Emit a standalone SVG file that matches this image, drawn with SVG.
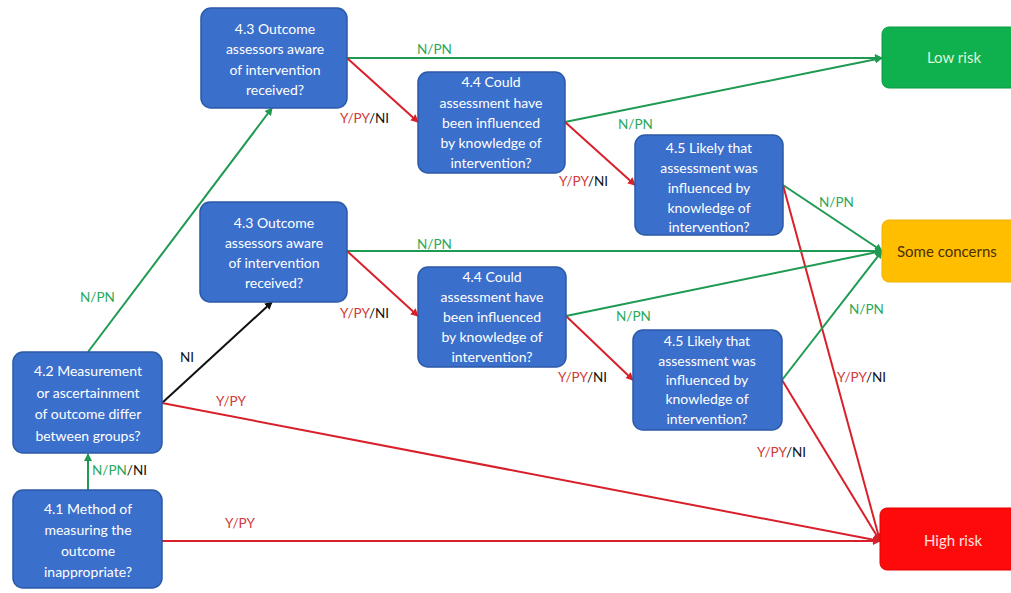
<svg xmlns="http://www.w3.org/2000/svg" width="1011" height="593" viewBox="0 0 1011 593">
  <defs>
    <marker id="ahG" markerWidth="8" markerHeight="8" refX="7" refY="4" orient="auto" markerUnits="userSpaceOnUse">
      <path d="M0,0 L8,4 L0,8 z" fill="#1f9a52"/>
    </marker>
    <marker id="ahR" markerWidth="8" markerHeight="8" refX="7" refY="4" orient="auto" markerUnits="userSpaceOnUse">
      <path d="M0,0 L8,4 L0,8 z" fill="#d8202a"/>
    </marker>
    <marker id="ahK" markerWidth="8" markerHeight="8" refX="7" refY="4" orient="auto" markerUnits="userSpaceOnUse">
      <path d="M0,0 L8,4 L0,8 z" fill="#111"/>
    </marker>
  </defs>
  <style>
    .q rect { fill: #3b6fcc; stroke: #2c5aa6; stroke-width: 1.5; }
    .q text { font-family: Lato, "Liberation Sans", sans-serif; font-size: 14px; fill: #ffffff; text-anchor: middle; }
    .g { stroke: #1f9a52; stroke-width: 2; fill: none; marker-end: url(#ahG); }
    .r { stroke: #d8202a; stroke-width: 2; fill: none; marker-end: url(#ahR); }
    .k { stroke: #111; stroke-width: 2; fill: none; marker-end: url(#ahK); }
    .lbl { font-family: Lato, "Liberation Sans", sans-serif; font-size: 13.5px; }
    .tg { fill: #2aa85a; }
    .tr { fill: #d23a3a; }
    .tk { fill: #111; }
    .term text { font-family: Lato, "Liberation Sans", sans-serif; font-size: 15px; text-anchor: middle; }
  </style>
  <rect width="1011" height="593" fill="#ffffff"/>

  <!-- connectors -->
  <g id="connectors">
    <line class="g" x1="88" y1="490" x2="88" y2="454"/>
    <line class="r" x1="162" y1="541" x2="880" y2="541"/>
    <line class="g" x1="88" y1="352" x2="272" y2="108"/>
    <line class="k" x1="162" y1="403" x2="272" y2="302"/>
    <line class="r" x1="162" y1="403" x2="880" y2="541"/>

    <line class="g" x1="347" y1="58" x2="882" y2="58"/>
    <line class="r" x1="347" y1="58" x2="418" y2="122"/>
    <line class="g" x1="565" y1="122" x2="882" y2="58"/>
    <line class="r" x1="565" y1="122" x2="635" y2="185"/>
    <line class="g" x1="783" y1="185" x2="882" y2="251"/>
    <line class="r" x1="783" y1="185" x2="880" y2="541"/>

    <line class="g" x1="347" y1="251" x2="882" y2="251"/>
    <line class="r" x1="347" y1="251" x2="418" y2="316"/>
    <line class="g" x1="566" y1="316" x2="882" y2="251"/>
    <line class="r" x1="566" y1="316" x2="633" y2="380"/>
    <line class="g" x1="782" y1="380" x2="882" y2="251"/>
    <line class="r" x1="782" y1="380" x2="880" y2="541"/>

    <!-- connector labels -->
    <text class="lbl" x="92" y="475"><tspan class="tg">N/PN</tspan><tspan class="tk">/NI</tspan></text>
    <text class="lbl tr" x="225" y="528">Y/PY</text>
    <text class="lbl tg" x="80" y="302">N/PN</text>
    <text class="lbl tk" x="180" y="362">NI</text>
    <text class="lbl tr" x="216" y="406">Y/PY</text>

    <text class="lbl tg" x="417" y="54">N/PN</text>
    <text class="lbl" x="340" y="123"><tspan class="tr">Y/PY</tspan><tspan class="tk">/NI</tspan></text>
    <text class="lbl tg" x="618" y="129">N/PN</text>
    <text class="lbl" x="559" y="186"><tspan class="tr">Y/PY</tspan><tspan class="tk">/NI</tspan></text>
    <text class="lbl tg" x="819" y="207">N/PN</text>
    <text class="lbl" x="837" y="382"><tspan class="tr">Y/PY</tspan><tspan class="tk">/NI</tspan></text>

    <text class="lbl tg" x="417" y="249">N/PN</text>
    <text class="lbl" x="340" y="318"><tspan class="tr">Y/PY</tspan><tspan class="tk">/NI</tspan></text>
    <text class="lbl tg" x="616" y="321">N/PN</text>
    <text class="lbl" x="558" y="382"><tspan class="tr">Y/PY</tspan><tspan class="tk">/NI</tspan></text>
    <text class="lbl tg" x="849" y="314">N/PN</text>
    <text class="lbl" x="757" y="457"><tspan class="tr">Y/PY</tspan><tspan class="tk">/NI</tspan></text>
  </g>

  <!-- question nodes -->
  <g id="q41" class="q">
    <rect x="13" y="490" width="149" height="98" rx="10"/>
    <text x="88" y="514">4.1 Method of</text>
    <text x="88" y="535">measuring the</text>
    <text x="88" y="556">outcome</text>
    <text x="88" y="577">inappropriate?</text>
  </g>
  <g id="q42" class="q">
    <rect x="13" y="352" width="149" height="101" rx="10"/>
    <text x="88" y="376">4.2 Measurement</text>
    <text x="88" y="398">or ascertainment</text>
    <text x="88" y="419">of outcome differ</text>
    <text x="88" y="441">between groups?</text>
  </g>
  <g id="q43a" class="q">
    <rect x="201" y="8" width="146" height="100" rx="10"/>
    <text x="275" y="34">4.3 Outcome</text>
    <text x="275" y="54">assessors aware</text>
    <text x="275" y="75">of intervention</text>
    <text x="275" y="95">received?</text>
  </g>
  <g id="q43b" class="q">
    <rect x="200" y="202" width="147" height="100" rx="10"/>
    <text x="274" y="228">4.3 Outcome</text>
    <text x="274" y="248">assessors aware</text>
    <text x="274" y="268">of intervention</text>
    <text x="274" y="288">received?</text>
  </g>
  <g id="q44a" class="q">
    <rect x="418" y="72" width="147" height="101" rx="10"/>
    <text x="491" y="87">4.4 Could</text>
    <text x="491" y="108">assessment have</text>
    <text x="491" y="128">been influenced</text>
    <text x="491" y="148">by knowledge of</text>
    <text x="491" y="168">intervention?</text>
  </g>
  <g id="q44b" class="q">
    <rect x="418" y="267" width="148" height="100" rx="10"/>
    <text x="492" y="282">4.4 Could</text>
    <text x="492" y="302">assessment have</text>
    <text x="492" y="322">been influenced</text>
    <text x="492" y="342">by knowledge of</text>
    <text x="492" y="362">intervention?</text>
  </g>
  <g id="q45a" class="q">
    <rect x="635" y="135" width="148" height="100" rx="10"/>
    <text x="709" y="153">4.5 Likely that</text>
    <text x="709" y="173">assessment was</text>
    <text x="709" y="193">influenced by</text>
    <text x="709" y="213">knowledge of</text>
    <text x="709" y="232">intervention?</text>
  </g>
  <g id="q45b" class="q">
    <rect x="633" y="330" width="149" height="100" rx="10"/>
    <text x="707" y="346">4.5 Likely that</text>
    <text x="707" y="366">assessment was</text>
    <text x="707" y="385">influenced by</text>
    <text x="707" y="404">knowledge of</text>
    <text x="707" y="424">intervention?</text>
  </g>

  <!-- judgement nodes -->
  <g id="low" class="term">
    <rect x="882" y="27" width="150" height="61" rx="7" fill="#0fb04e" stroke="#0a9a42"/>
    <text x="954" y="63" fill="#dff7dc">Low risk</text>
  </g>
  <g id="some" class="term">
    <rect x="882" y="220" width="150" height="62" rx="7" fill="#ffbf00" stroke="#f0b000"/>
    <text x="897" y="257" fill="#4a2e05" style="text-anchor:start">Some concerns</text>
  </g>
  <g id="high" class="term">
    <rect x="880" y="508" width="150" height="62" rx="7" fill="#ff0a0a" stroke="#e00000"/>
    <text x="953" y="546" fill="#ffe0e0">High risk</text>
  </g>
</svg>
